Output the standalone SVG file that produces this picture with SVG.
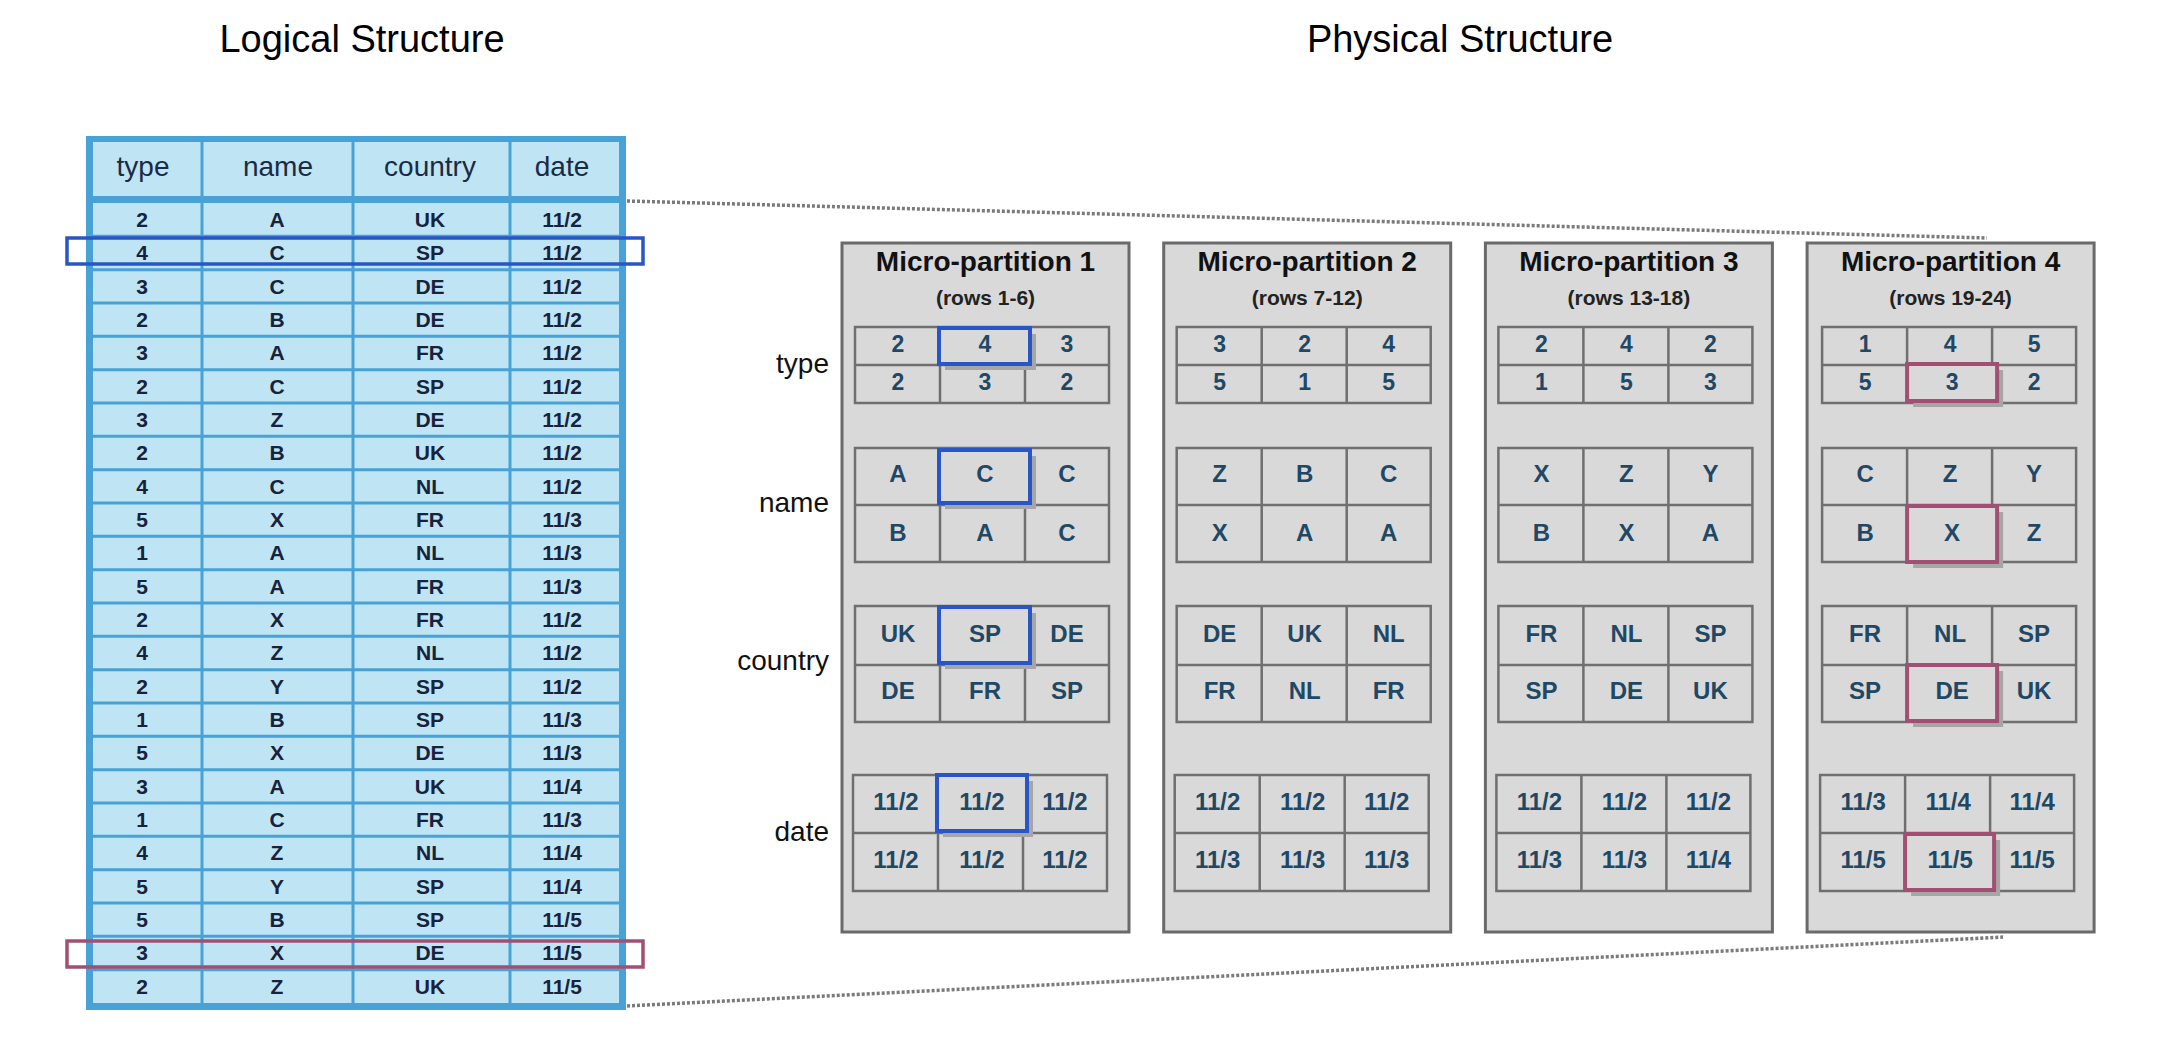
<svg xmlns="http://www.w3.org/2000/svg" width="2160" height="1062" viewBox="0 0 2160 1062">
<style>
.title{font-family:"Liberation Sans",Arial,sans-serif;font-size:38px;fill:#000;text-anchor:middle}
.lbl{font-family:"Liberation Sans",Arial,sans-serif;font-size:28px;fill:#111;text-anchor:end}
.th{font-family:"Liberation Sans",Arial,sans-serif;font-size:28px;fill:#1b2a44;text-anchor:middle}
.td{font-family:"Liberation Sans",Arial,sans-serif;font-size:21px;font-weight:bold;fill:#17223d;text-anchor:middle}
.mpt{font-family:"Liberation Sans",Arial,sans-serif;font-size:28px;font-weight:bold;fill:#111;text-anchor:middle}
.mps{font-family:"Liberation Sans",Arial,sans-serif;font-size:21px;font-weight:bold;fill:#222;text-anchor:middle}
.pc{font-family:"Liberation Sans",Arial,sans-serif;font-size:24px;font-weight:bold;fill:#1f4864;text-anchor:middle}
.pt{font-family:"Liberation Sans",Arial,sans-serif;font-size:23px;font-weight:bold;fill:#1f4864;text-anchor:middle}
.box{fill:#d9d9d9;stroke:#6a6a6a;stroke-width:3}
.grid{fill:#d9d9d9;stroke:#6f6f6f;stroke-width:2.5}
.gl{fill:none;stroke:#6f6f6f;stroke-width:2.5}
.shadow{fill:#a6a6a6}
.hb{fill:#d9d9d9;stroke:#2856c6;stroke-width:4}
.hp{fill:#d9d9d9;stroke:#a24f74;stroke-width:4}
.dots{fill:none;stroke:#7a7a7a;stroke-width:3.5;stroke-dasharray:3 2}
</style>

<text class="title" x="362" y="52">Logical Structure</text>
<text class="title" x="1460" y="52">Physical Structure</text>

<g id="connectors">
<path class="dots" d="M627 201 L1987 238"/>
<path class="dots" d="M627 1006 L2003 937"/>
</g>

<g id="logical-table">
<rect x="86" y="136" width="540" height="874" fill="#48a2d6"/>
<rect x="93" y="142" width="526" height="54" fill="#bfe4f3"/>
<rect x="93" y="203" width="526" height="800" fill="#bfe4f3"/>
<path fill="none" stroke="#48a2d6" stroke-width="3" d="M202 142V1003 M353 142V1003 M510 142V1003"/>
<path fill="none" stroke="#48a2d6" stroke-width="3" d="M93 236.3H619 M93 269.7H619 M93 303H619 M93 336.3H619 M93 369.7H619 M93 403H619 M93 436.3H619 M93 469.7H619 M93 503H619 M93 536.3H619 M93 569.7H619 M93 603H619 M93 636.3H619 M93 669.7H619 M93 703H619 M93 736.3H619 M93 769.7H619 M93 803H619 M93 836.3H619 M93 869.7H619 M93 903H619 M93 936.3H619 M93 969.7H619"/>
<text class="th" x="143" y="176">type</text>
<text class="th" x="278" y="176">name</text>
<text class="th" x="430" y="176">country</text>
<text class="th" x="562" y="176">date</text>
<g>
<text class="td" x="142" y="227">2</text><text class="td" x="277" y="227">A</text><text class="td" x="430" y="227">UK</text><text class="td" x="562" y="227">11/2</text>
<text class="td" x="142" y="260.3">4</text><text class="td" x="277" y="260.3">C</text><text class="td" x="430" y="260.3">SP</text><text class="td" x="562" y="260.3">11/2</text>
<text class="td" x="142" y="293.7">3</text><text class="td" x="277" y="293.7">C</text><text class="td" x="430" y="293.7">DE</text><text class="td" x="562" y="293.7">11/2</text>
<text class="td" x="142" y="327">2</text><text class="td" x="277" y="327">B</text><text class="td" x="430" y="327">DE</text><text class="td" x="562" y="327">11/2</text>
<text class="td" x="142" y="360.3">3</text><text class="td" x="277" y="360.3">A</text><text class="td" x="430" y="360.3">FR</text><text class="td" x="562" y="360.3">11/2</text>
<text class="td" x="142" y="393.7">2</text><text class="td" x="277" y="393.7">C</text><text class="td" x="430" y="393.7">SP</text><text class="td" x="562" y="393.7">11/2</text>
<text class="td" x="142" y="427">3</text><text class="td" x="277" y="427">Z</text><text class="td" x="430" y="427">DE</text><text class="td" x="562" y="427">11/2</text>
<text class="td" x="142" y="460.3">2</text><text class="td" x="277" y="460.3">B</text><text class="td" x="430" y="460.3">UK</text><text class="td" x="562" y="460.3">11/2</text>
<text class="td" x="142" y="493.7">4</text><text class="td" x="277" y="493.7">C</text><text class="td" x="430" y="493.7">NL</text><text class="td" x="562" y="493.7">11/2</text>
<text class="td" x="142" y="527">5</text><text class="td" x="277" y="527">X</text><text class="td" x="430" y="527">FR</text><text class="td" x="562" y="527">11/3</text>
<text class="td" x="142" y="560.3">1</text><text class="td" x="277" y="560.3">A</text><text class="td" x="430" y="560.3">NL</text><text class="td" x="562" y="560.3">11/3</text>
<text class="td" x="142" y="593.7">5</text><text class="td" x="277" y="593.7">A</text><text class="td" x="430" y="593.7">FR</text><text class="td" x="562" y="593.7">11/3</text>
<text class="td" x="142" y="627">2</text><text class="td" x="277" y="627">X</text><text class="td" x="430" y="627">FR</text><text class="td" x="562" y="627">11/2</text>
<text class="td" x="142" y="660.3">4</text><text class="td" x="277" y="660.3">Z</text><text class="td" x="430" y="660.3">NL</text><text class="td" x="562" y="660.3">11/2</text>
<text class="td" x="142" y="693.7">2</text><text class="td" x="277" y="693.7">Y</text><text class="td" x="430" y="693.7">SP</text><text class="td" x="562" y="693.7">11/2</text>
<text class="td" x="142" y="727">1</text><text class="td" x="277" y="727">B</text><text class="td" x="430" y="727">SP</text><text class="td" x="562" y="727">11/3</text>
<text class="td" x="142" y="760.3">5</text><text class="td" x="277" y="760.3">X</text><text class="td" x="430" y="760.3">DE</text><text class="td" x="562" y="760.3">11/3</text>
<text class="td" x="142" y="793.7">3</text><text class="td" x="277" y="793.7">A</text><text class="td" x="430" y="793.7">UK</text><text class="td" x="562" y="793.7">11/4</text>
<text class="td" x="142" y="827">1</text><text class="td" x="277" y="827">C</text><text class="td" x="430" y="827">FR</text><text class="td" x="562" y="827">11/3</text>
<text class="td" x="142" y="860.3">4</text><text class="td" x="277" y="860.3">Z</text><text class="td" x="430" y="860.3">NL</text><text class="td" x="562" y="860.3">11/4</text>
<text class="td" x="142" y="893.7">5</text><text class="td" x="277" y="893.7">Y</text><text class="td" x="430" y="893.7">SP</text><text class="td" x="562" y="893.7">11/4</text>
<text class="td" x="142" y="927">5</text><text class="td" x="277" y="927">B</text><text class="td" x="430" y="927">SP</text><text class="td" x="562" y="927">11/5</text>
<text class="td" x="142" y="960.3">3</text><text class="td" x="277" y="960.3">X</text><text class="td" x="430" y="960.3">DE</text><text class="td" x="562" y="960.3">11/5</text>
<text class="td" x="142" y="993.7">2</text><text class="td" x="277" y="993.7">Z</text><text class="td" x="430" y="993.7">UK</text><text class="td" x="562" y="993.7">11/5</text>
</g>
<rect x="67" y="238" width="576" height="26" fill="none" stroke="#2856c6" stroke-width="3.5"/>
<rect x="67" y="941" width="576" height="26" fill="none" stroke="#a24f74" stroke-width="3.5"/>
</g>

<g id="row-labels">
<text class="lbl" x="829" y="373">type</text>
<text class="lbl" x="829" y="512">name</text>
<text class="lbl" x="829" y="670">country</text>
<text class="lbl" x="829" y="841">date</text>
</g>

<g id="micro-partition-1" transform="translate(842 0)">
<rect class="box" x="0" y="243" width="287" height="689"/>
<text class="mpt" x="143.5" y="271">Micro-partition 1</text>
<text class="mps" x="143.5" y="305">(rows 1-6)</text>
<rect class="grid" x="13" y="327" width="254" height="76"/><path class="gl" d="M13 365H267 M98 327V403 M183 327V403"/>
<rect class="grid" x="13" y="448" width="254" height="114"/><path class="gl" d="M13 505H267 M98 448V562 M183 448V562"/>
<rect class="grid" x="13" y="606" width="254" height="116"/><path class="gl" d="M13 665H267 M98 606V722 M183 606V722"/>
<rect class="grid" x="11" y="775" width="254" height="116"/><path class="gl" d="M11 833H265 M96 775V891 M181 775V891"/>
<rect class="shadow" x="103" y="334" width="91" height="36"/><rect class="hb" x="97" y="328" width="91" height="36"/>
<rect class="shadow" x="103" y="456" width="91" height="53"/><rect class="hb" x="97" y="450" width="91" height="53"/>
<rect class="shadow" x="103" y="613" width="91" height="56"/><rect class="hb" x="97" y="607" width="91" height="56"/>
<rect class="shadow" x="101" y="781" width="90" height="56"/><rect class="hb" x="95" y="775" width="90" height="56"/>
<text class="pt" x="56" y="352">2</text><text class="pt" x="143" y="352">4</text><text class="pt" x="225" y="352">3</text>
<text class="pt" x="56" y="390">2</text><text class="pt" x="143" y="390">3</text><text class="pt" x="225" y="390">2</text>
<text class="pc" x="56" y="482">A</text><text class="pc" x="143" y="482">C</text><text class="pc" x="225" y="482">C</text>
<text class="pc" x="56" y="541">B</text><text class="pc" x="143" y="541">A</text><text class="pc" x="225" y="541">C</text>
<text class="pc" x="56" y="642">UK</text><text class="pc" x="143" y="642">SP</text><text class="pc" x="225" y="642">DE</text>
<text class="pc" x="56" y="699">DE</text><text class="pc" x="143" y="699">FR</text><text class="pc" x="225" y="699">SP</text>
<text class="pc" x="54" y="810">11/2</text><text class="pc" x="140" y="810">11/2</text><text class="pc" x="223" y="810">11/2</text>
<text class="pc" x="54" y="868">11/2</text><text class="pc" x="140" y="868">11/2</text><text class="pc" x="223" y="868">11/2</text>
</g>

<g id="micro-partition-2" transform="translate(1163.7 0)">
<rect class="box" x="0" y="243" width="287" height="689"/>
<text class="mpt" x="143.5" y="271">Micro-partition 2</text>
<text class="mps" x="143.5" y="305">(rows 7-12)</text>
<rect class="grid" x="13" y="327" width="254" height="76"/><path class="gl" d="M13 365H267 M98 327V403 M183 327V403"/>
<rect class="grid" x="13" y="448" width="254" height="114"/><path class="gl" d="M13 505H267 M98 448V562 M183 448V562"/>
<rect class="grid" x="13" y="606" width="254" height="116"/><path class="gl" d="M13 665H267 M98 606V722 M183 606V722"/>
<rect class="grid" x="11" y="775" width="254" height="116"/><path class="gl" d="M11 833H265 M96 775V891 M181 775V891"/>
<text class="pt" x="56" y="352">3</text><text class="pt" x="141" y="352">2</text><text class="pt" x="225" y="352">4</text>
<text class="pt" x="56" y="390">5</text><text class="pt" x="141" y="390">1</text><text class="pt" x="225" y="390">5</text>
<text class="pc" x="56" y="482">Z</text><text class="pc" x="141" y="482">B</text><text class="pc" x="225" y="482">C</text>
<text class="pc" x="56" y="541">X</text><text class="pc" x="141" y="541">A</text><text class="pc" x="225" y="541">A</text>
<text class="pc" x="56" y="642">DE</text><text class="pc" x="141" y="642">UK</text><text class="pc" x="225" y="642">NL</text>
<text class="pc" x="56" y="699">FR</text><text class="pc" x="141" y="699">NL</text><text class="pc" x="225" y="699">FR</text>
<text class="pc" x="54" y="810">11/2</text><text class="pc" x="139" y="810">11/2</text><text class="pc" x="223" y="810">11/2</text>
<text class="pc" x="54" y="868">11/3</text><text class="pc" x="139" y="868">11/3</text><text class="pc" x="223" y="868">11/3</text>
</g>

<g id="micro-partition-3" transform="translate(1485.4 0)">
<rect class="box" x="0" y="243" width="287" height="689"/>
<text class="mpt" x="143.5" y="271">Micro-partition 3</text>
<text class="mps" x="143.5" y="305">(rows 13-18)</text>
<rect class="grid" x="13" y="327" width="254" height="76"/><path class="gl" d="M13 365H267 M98 327V403 M183 327V403"/>
<rect class="grid" x="13" y="448" width="254" height="114"/><path class="gl" d="M13 505H267 M98 448V562 M183 448V562"/>
<rect class="grid" x="13" y="606" width="254" height="116"/><path class="gl" d="M13 665H267 M98 606V722 M183 606V722"/>
<rect class="grid" x="11" y="775" width="254" height="116"/><path class="gl" d="M11 833H265 M96 775V891 M181 775V891"/>
<text class="pt" x="56" y="352">2</text><text class="pt" x="141" y="352">4</text><text class="pt" x="225" y="352">2</text>
<text class="pt" x="56" y="390">1</text><text class="pt" x="141" y="390">5</text><text class="pt" x="225" y="390">3</text>
<text class="pc" x="56" y="482">X</text><text class="pc" x="141" y="482">Z</text><text class="pc" x="225" y="482">Y</text>
<text class="pc" x="56" y="541">B</text><text class="pc" x="141" y="541">X</text><text class="pc" x="225" y="541">A</text>
<text class="pc" x="56" y="642">FR</text><text class="pc" x="141" y="642">NL</text><text class="pc" x="225" y="642">SP</text>
<text class="pc" x="56" y="699">SP</text><text class="pc" x="141" y="699">DE</text><text class="pc" x="225" y="699">UK</text>
<text class="pc" x="54" y="810">11/2</text><text class="pc" x="139" y="810">11/2</text><text class="pc" x="223" y="810">11/2</text>
<text class="pc" x="54" y="868">11/3</text><text class="pc" x="139" y="868">11/3</text><text class="pc" x="223" y="868">11/4</text>
</g>

<g id="micro-partition-4" transform="translate(1807.1 0)">
<rect class="box" x="0" y="243" width="287" height="689"/>
<text class="mpt" x="143.5" y="271">Micro-partition 4</text>
<text class="mps" x="143.5" y="305">(rows 19-24)</text>
<rect class="grid" x="15" y="327" width="254" height="76"/><path class="gl" d="M15 365H269 M100 327V403 M185 327V403"/>
<rect class="grid" x="15" y="448" width="254" height="114"/><path class="gl" d="M15 505H269 M100 448V562 M185 448V562"/>
<rect class="grid" x="15" y="606" width="254" height="116"/><path class="gl" d="M15 665H269 M100 606V722 M185 606V722"/>
<rect class="grid" x="13" y="775" width="254" height="116"/><path class="gl" d="M13 833H267 M98 775V891 M183 775V891"/>
<rect class="shadow" x="106" y="370" width="90" height="37"/><rect class="hp" x="100" y="364" width="90" height="37"/>
<rect class="shadow" x="106" y="512" width="90" height="56"/><rect class="hp" x="100" y="506" width="90" height="56"/>
<rect class="shadow" x="106" y="671" width="90" height="56"/><rect class="hp" x="100" y="665" width="90" height="56"/>
<rect class="shadow" x="104" y="840" width="89" height="56"/><rect class="hp" x="98" y="834" width="89" height="56"/>
<text class="pt" x="58" y="352">1</text><text class="pt" x="143" y="352">4</text><text class="pt" x="227" y="352">5</text>
<text class="pt" x="58" y="390">5</text><text class="pt" x="145" y="390">3</text><text class="pt" x="227" y="390">2</text>
<text class="pc" x="58" y="482">C</text><text class="pc" x="143" y="482">Z</text><text class="pc" x="227" y="482">Y</text>
<text class="pc" x="58" y="541">B</text><text class="pc" x="145" y="541">X</text><text class="pc" x="227" y="541">Z</text>
<text class="pc" x="58" y="642">FR</text><text class="pc" x="143" y="642">NL</text><text class="pc" x="227" y="642">SP</text>
<text class="pc" x="58" y="699">SP</text><text class="pc" x="145" y="699">DE</text><text class="pc" x="227" y="699">UK</text>
<text class="pc" x="56" y="810">11/3</text><text class="pc" x="141" y="810">11/4</text><text class="pc" x="225" y="810">11/4</text>
<text class="pc" x="56" y="868">11/5</text><text class="pc" x="143" y="868">11/5</text><text class="pc" x="225" y="868">11/5</text>
</g>
</svg>
